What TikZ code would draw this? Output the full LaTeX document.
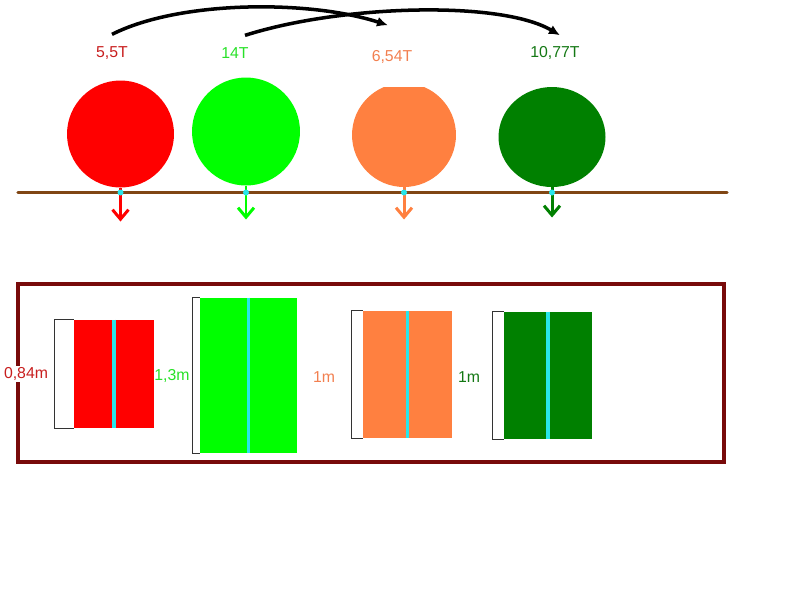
\documentclass[tikz,border=0pt]{standalone}
\usepackage{fontspec}
\setmainfont{Liberation Sans}
\definecolor{RedLog}{RGB}{255,0,0}
\definecolor{LimeLog}{RGB}{0,255,0}
\definecolor{OrangeLog}{RGB}{255,128,64}
\definecolor{ForestLog}{RGB}{0,128,0}
\definecolor{RedText}{RGB}{200,30,30}
\definecolor{LimeText}{RGB}{40,225,40}
\definecolor{OrangeText}{RGB}{242,128,80}
\definecolor{ForestText}{RGB}{20,120,20}
\definecolor{CoreColor}{RGB}{40,230,235}
\definecolor{GroundColor}{RGB}{128,70,20}
\definecolor{FrameColor}{RGB}{120,10,10}
\usetikzlibrary{arrows.meta, shapes.geometric, calc}

\begin{document}
\begin{tikzpicture}[x=0.02cm, y=-0.02cm,
    every node/.style={font=\fontsize{9}{11}\selectfont},
    tree/.style={circle, inner sep=0pt},
    log/.style={rectangle, inner sep=0pt},
    load/.style={-{Straight Barb[length=1.9mm, width=3.2mm]}, line width=1.7pt},
    swap/.style={-{Latex[length=2.2mm, width=2mm]}, line width=2pt},
    core/.style={CoreColor, line width=2.2pt},
    bracket/.style={black!80, line width=0.5pt}]
  \useasboundingbox (0,0) rectangle (800,600);

  % trees seen from the front
  \node[tree, fill=RedLog, minimum size=2.14cm] (c1) at (120.5,134) {};
  \node[tree, fill=LimeLog, minimum size=2.16cm] (c2) at (246,131.5) {};
  \begin{scope}
    \clip (340,87) rectangle (470,200);
    \node[tree, fill=OrangeLog, minimum size=2.08cm] (c3) at (404,135) {};
  \end{scope}
  \node[ellipse, inner sep=0pt, fill=ForestLog, minimum width=2.14cm, minimum height=2.0cm] (c4) at (552,137) {};

  % masses
  \node[RedText] (w1) at (112,53) {5,5T};
  \node[LimeText] (w2) at (235,53) {14T};
  \node[OrangeText] (w3) at (392,57) {6,54T};
  \node[ForestText] (w4) at (555,53) {10,77T};

  \coordinate (s1) at ([yshift=0.12cm]w1.north);
  \coordinate (e1) at ([shift={(-0.08cm,0.38cm)}]w3.north);
  \coordinate (s2) at ([shift={(0.2cm,0.12cm)}]w2.north);
  \coordinate (e2) at ([shift={(0.1cm,0.1cm)}]w4.north);
  \draw[swap] (s1) .. controls (180,0) and (310,0) .. (e1);
  \draw[swap] (s2) .. controls (340,5) and (500,0) .. (e2);

  % ground
  \coordinate (gl) at (18,192.5);
  \coordinate (gr) at (727,192.5);
  \draw[GroundColor, line width=1.8pt, line cap=round] (gl) -- (gr);

  \draw[load, RedLog] (c1.south) -- ([yshift=-0.58cm]c1.south |- gl);
  \draw[load, LimeLog] (c2.south) -- ([yshift=-0.54cm]c2.south |- gl);
  \draw[load, OrangeLog] (c3.south) -- ([yshift=-0.54cm]c3.south |- gl);
  \draw[load, ForestLog] (c4.south) -- ([yshift=-0.5cm]c4.south |- gl);
  \foreach \c in {c1,c2,c3,c4}
    \fill[CoreColor] (\c.south |- gl) circle (3);

  % logs seen from the side
  \draw[FrameColor, line width=1.8pt] (18,284) rectangle (724,462);

  \node[log, fill=RedLog, minimum width=1.6cm, minimum height=2.16cm] (r1) at (114,374) {};
  \node[log, fill=LimeLog, minimum width=1.94cm, minimum height=3.1cm] (r2) at (248.5,375.5) {};
  \node[log, fill=OrangeLog, minimum width=1.78cm, minimum height=2.54cm] (r3) at (407.5,374.5) {};
  \node[log, fill=ForestLog, minimum width=1.76cm, minimum height=2.54cm] (r4) at (548,375.5) {};

  \foreach \r/\d in {r1/0.38cm, r2/0.14cm, r3/0.22cm, r4/0.22cm} {
    \draw[core] (\r.north) -- (\r.south);
    \draw[bracket] (\r.north west) -- ([xshift=-\d]\r.north west)
      -- ([xshift=-\d]\r.south west) -- (\r.south west);
  }

  \node[RedText, fill=white, inner sep=1pt] (h1) at (26,374) {0,84m};
  \node[LimeText] (h2) at (172,376) {1,3m};
  \node[OrangeText] (h3) at (324,377) {1m};
  \node[ForestText] (h4) at (469,377) {1m};
\end{tikzpicture}
\end{document}
